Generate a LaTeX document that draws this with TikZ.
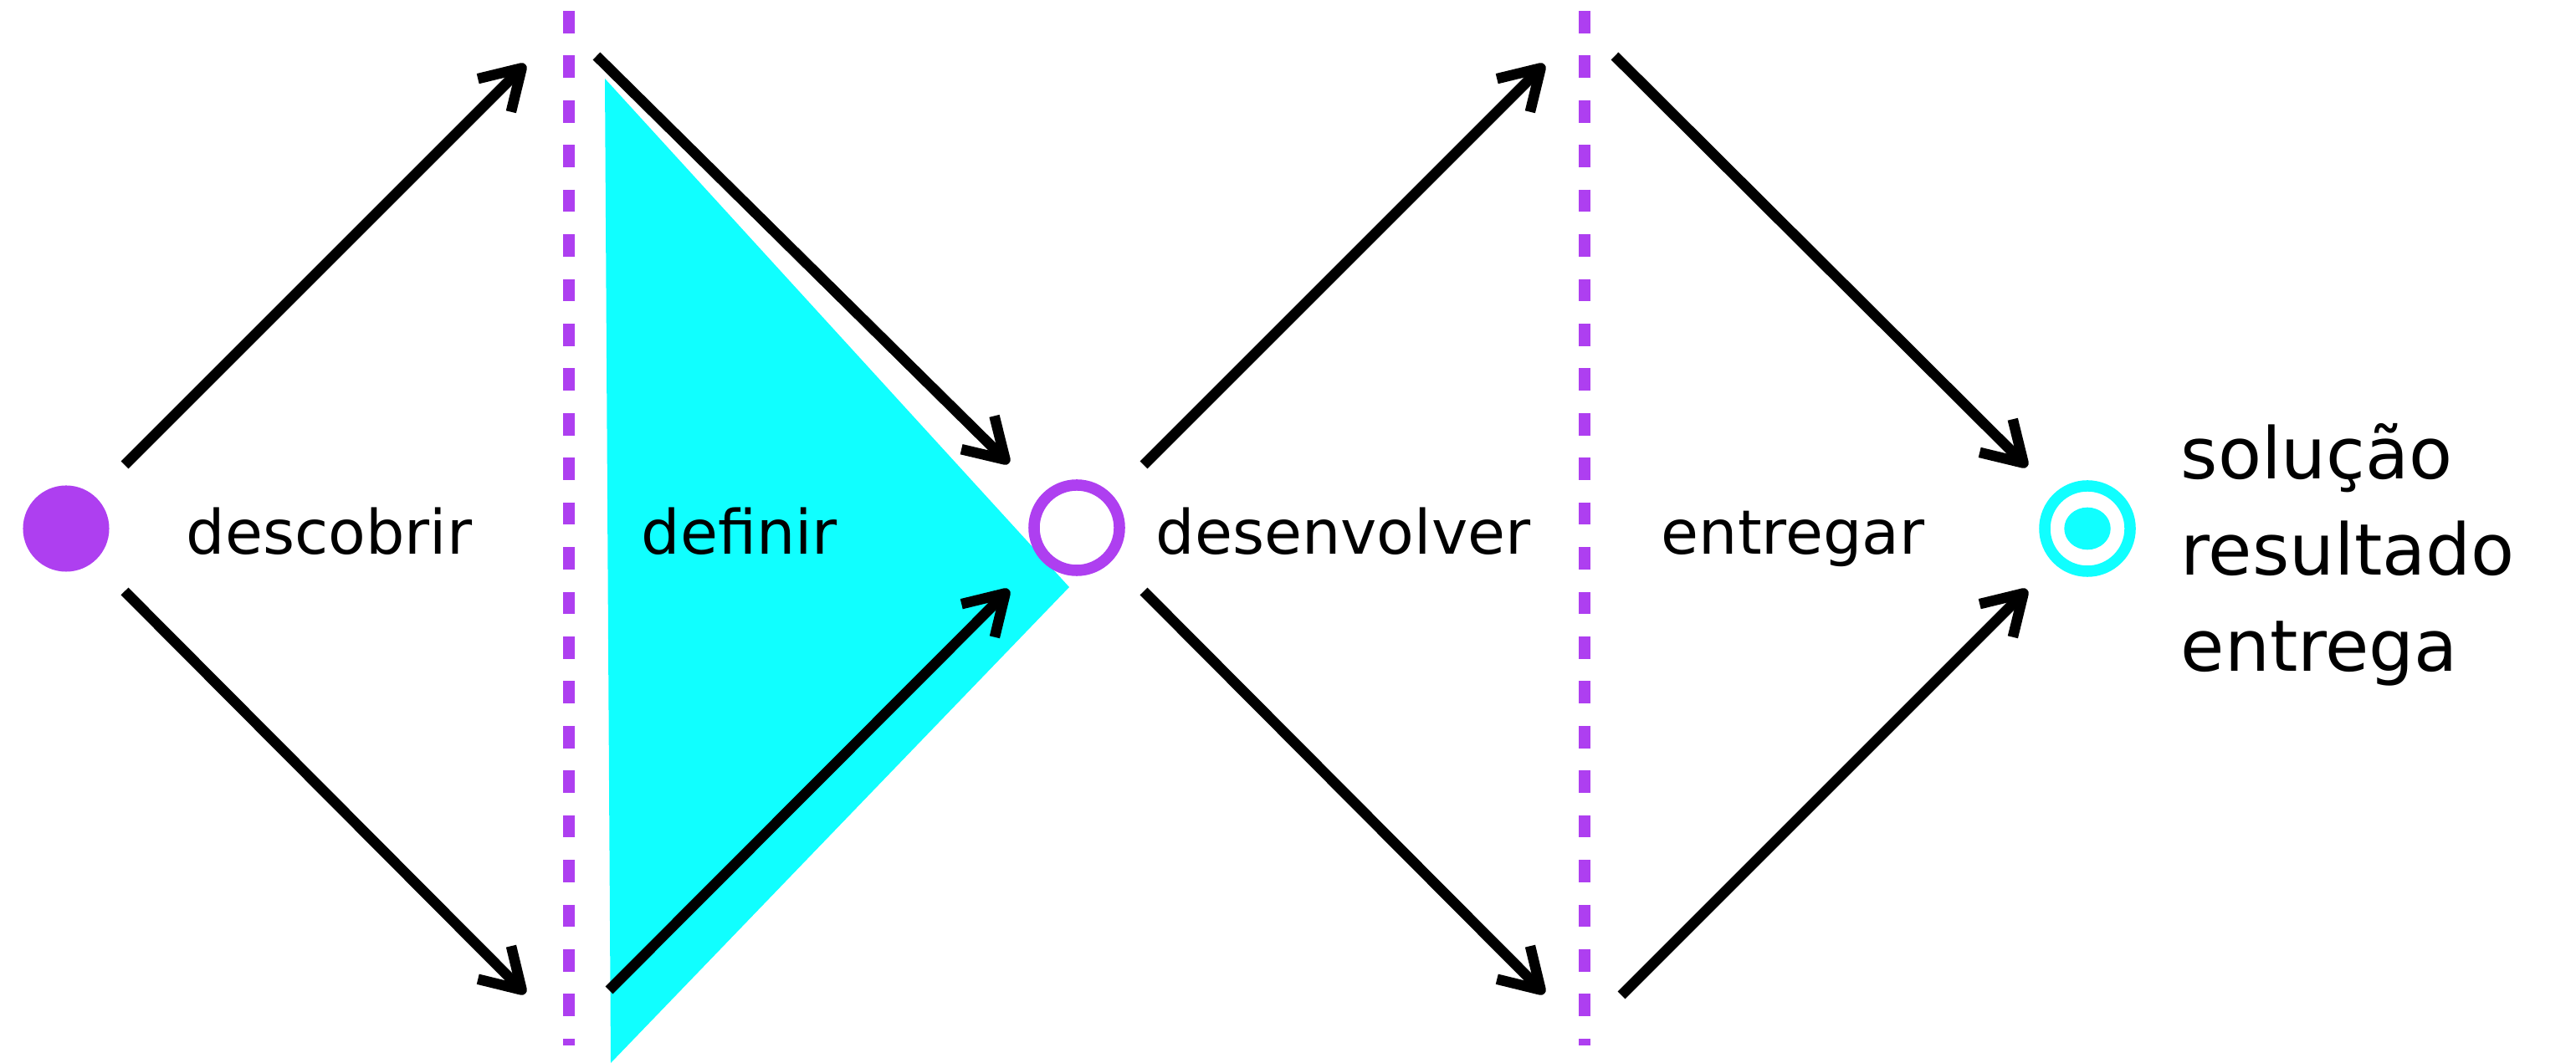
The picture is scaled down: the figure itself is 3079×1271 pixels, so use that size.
\documentclass[tikz,border=0pt]{standalone}
\usepackage{fontspec}
\setmainfont{DejaVu Sans}
\usepackage{tikz}
\usetikzlibrary{arrows.meta}
\definecolor{roxo}{RGB}{174,63,240}
\definecolor{ciano}{RGB}{16,255,255}
\tikzset
  {
    seta/.style   = {line width=0.125cm, -{Straight Barb[length=0.46cm, width=0.56cm, line cap=butt, line join=round]}},
    divisa/.style = {roxo, line width=0.133cm, dash pattern=on 0.267cm off 0.267cm},
    fase/.style   = {font=\fontsize{20.8}{25}\selectfont, inner sep=0pt, anchor=base west},
    anel/.style   = {circle, line width=0.135cm, minimum size=1.02cm, inner sep=0pt},
  }
\begin{document}
\begin{tikzpicture}[x=0.01cm, y=-0.01cm]
    \useasboundingbox (0,0) rectangle (3079,1271);
    \fill[ciano] (723,94) -- (1278,702) -- (730,1271) -- cycle;
    \draw[divisa] (680,13) -- (680,1250);
    \draw[divisa] (1894,13) -- (1894,1250);
    \node[circle, fill=roxo, minimum size=1.03cm, inner sep=0pt] (inicio) at (79,632) {};
    \node[anel, draw=roxo, fill=white] (meio) at (1287,631) {};
    \node[anel, draw=ciano] (fim) at (2495,632) {};
    \fill[ciano] (fim) ellipse (0.277cm and 0.253cm);
    % pontas das setas
    \coordinate (d1) at (149,556);  \coordinate (d2) at (628,77);
    \coordinate (d3) at (149,707);  \coordinate (d4) at (628,1188);
    \coordinate (f1) at (713,67);   \coordinate (f2) at (1206,554);
    \coordinate (f3) at (728,1184); \coordinate (f4) at (1206,705);
    \coordinate (v1) at (1367,556); \coordinate (v2) at (1846,77);
    \coordinate (v3) at (1367,707); \coordinate (v4) at (1846,1188);
    \coordinate (e1) at (1930,67);  \coordinate (e2) at (2423,558);
    \coordinate (e3) at (1938,1190); \coordinate (e4) at (2423,705);
    \draw[seta] (d1) -- (d2);
    \draw[seta] (d3) -- (d4);
    \draw[seta] (f1) -- (f2);
    \draw[seta] (f3) -- (f4);
    \draw[seta] (v1) -- (v2);
    \draw[seta] (v3) -- (v4);
    \draw[seta] (e1) -- (e2);
    \draw[seta] (e3) -- (e4);
    \node[fase] (descobrir) at (222,663) {descobrir};
    \node[fase] (definir) at (766,663) {definir};
    \node[fase] (desenvolver) at (1381,663) {desenvolver};
    \node[fase] (entregar) at (1985,663) {entregar};
    \node[fase, font=\fontsize{24.2}{32.8}\selectfont, align=left] (resultado) at (2606,803) {solução\\resultado\\entrega};
  \end{tikzpicture}
\end{document}
